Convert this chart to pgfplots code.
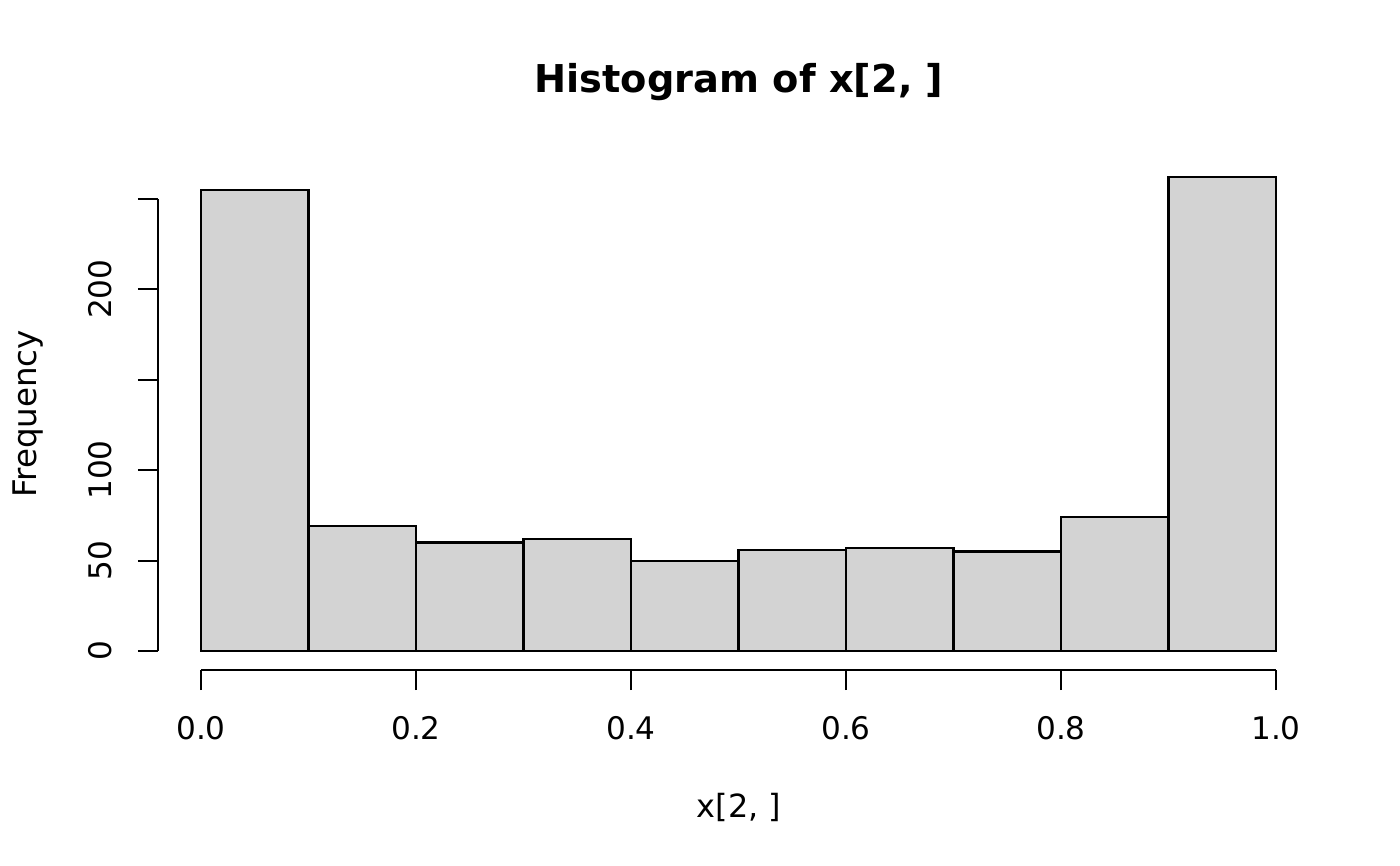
\documentclass[border=0pt]{standalone}
\usepackage{fontspec}
\setmainfont{DejaVu Sans}
\usepackage{pgfplots}
\pgfplotsset{compat=1.18}
\definecolor{barfill}{RGB}{211,211,211}
\begin{document}
\begin{tikzpicture}
\path[use as bounding box] (-56.88bp,-70.56bp) rectangle (447.12bp,241.2bp);
\begin{axis}[
  at={(0,0)}, anchor=south west,
  scale only axis, width=417.96bp, height=184.32bp,
  xmin=-0.04, xmax=1.04, ymin=-10.48, ymax=272.48,
  axis lines*=left, axis line style={draw=none},
  clip=false,
  xtick={0,0.2,0.4,0.6,0.8,1},
  xticklabels={0.0,0.2,0.4,0.6,0.8,1.0},
  ytick={0,50,100,150,200,250},
  yticklabels={0,50,100,,200,},
  tick align=outside, major tick length=7.2bp,
  tick style={black, line width=0.75bp},
  ticklabel style={font=\fontsize{11.2bp}{13bp}\selectfont},
  xticklabel style={anchor=base, yshift=-17.64bp},
  yticklabel style={xshift=-9.36bp, anchor=base, rotate=90},
]
\addplot[ybar interval, fill=barfill, draw=black, line width=0.75bp]
  coordinates {(0,255) (0.1,69) (0.2,60) (0.3,62) (0.4,50) (0.5,56) (0.6,57) (0.7,55) (0.8,74) (0.9,262) (1.0,262)};
\draw[line width=0.75bp] (axis cs:0,-10.48) -- (axis cs:1,-10.48);
\draw[line width=0.75bp] (axis cs:-0.04,0) -- (axis cs:-0.04,250);
\end{axis}
\node[anchor=base, font=\fontsize{13.8bp}{16bp}\selectfont\bfseries] at (209.16bp,207.72bp) {Histogram of x[2, ]};
\node[anchor=base, font=\fontsize{11.5bp}{13bp}\selectfont] at (209.16bp,-52.92bp) {x[2, ]};
\node[anchor=base, rotate=90, font=\fontsize{11.7bp}{13bp}\selectfont] at (-43.6bp,92.16bp) {Frequency};
\end{tikzpicture}
\end{document}
